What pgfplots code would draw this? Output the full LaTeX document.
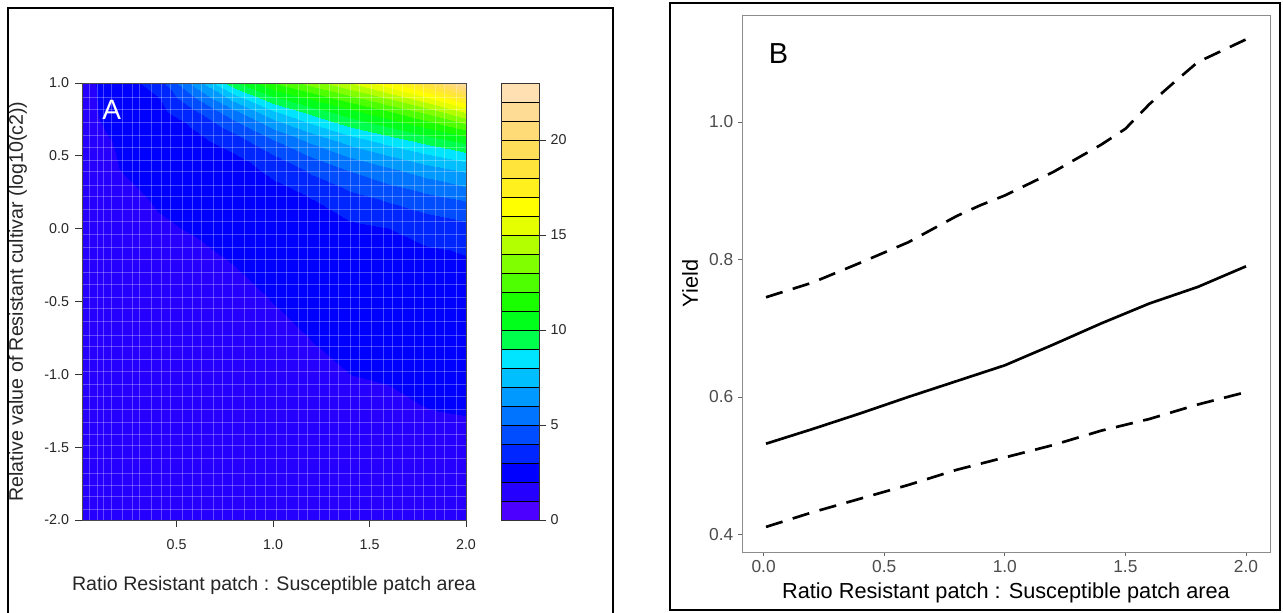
\documentclass[border=0pt]{standalone}
\usepackage{fontspec}
\setmainfont{Liberation Sans}
\usepackage{pgfplots}
\pgfplotsset{compat=1.18}

\pgfplotsset{
  colormap={topo}{
    rgb255=(76,0,255) rgb255=(38,0,255) rgb255=(0,0,255) rgb255=(0,38,255)
    rgb255=(0,77,255) rgb255=(0,115,255) rgb255=(0,153,255) rgb255=(0,191,255)
    rgb255=(0,229,255) rgb255=(0,255,77) rgb255=(0,255,26) rgb255=(26,255,0)
    rgb255=(77,255,0) rgb255=(128,255,0) rgb255=(179,255,0) rgb255=(230,255,0)
    rgb255=(255,255,0) rgb255=(255,240,30) rgb255=(255,229,59) rgb255=(255,222,89)
    rgb255=(255,219,119) rgb255=(255,220,149) rgb255=(255,224,179)
  }
}

\pgfplotstableread{
x y z
0.01 -2 1.600
0.1 -2 1.600
0.2 -2 1.600
0.4 -2 1.600
0.6 -2 1.600
0.8 -2 1.602
1.0 -2 1.608
1.2 -2 1.624
1.4 -2 1.646
1.6 -2 1.666
1.8 -2 1.686
2.0 -2 1.704
0.01 -1.5 1.600
0.1 -1.5 1.600
0.2 -1.5 1.602
0.4 -1.5 1.604
0.6 -1.5 1.606
0.8 -1.5 1.610
1.0 -1.5 1.628
1.2 -1.5 1.680
1.4 -1.5 1.736
1.6 -1.5 1.788
1.8 -1.5 1.836
2.0 -1.5 1.884
0.01 -1.25 1.600
0.1 -1.25 1.600
0.2 -1.25 1.604
0.4 -1.25 1.610
0.6 -1.25 1.612
0.8 -1.25 1.620
1.0 -1.25 1.656
1.2 -1.25 1.742
1.4 -1.25 1.836
1.6 -1.25 1.918
1.8 -1.25 1.994
2.0 -1.25 2.018
0.01 -1 1.600
0.1 -1 1.602
0.2 -1 1.610
0.4 -1 1.620
0.6 -1 1.628
0.8 -1 1.642
1.0 -1 1.710
1.2 -1 1.856
1.4 -1 2.002
1.6 -1 2.035
1.8 -1 2.065
2.0 -1 2.095
0.01 -0.75 1.600
0.1 -0.75 1.604
0.2 -0.75 1.618
0.4 -0.75 1.640
0.6 -0.75 1.658
0.8 -0.75 1.690
1.0 -0.75 1.816
1.2 -0.75 2.015
1.4 -0.75 2.075
1.6 -0.75 2.125
1.8 -0.75 2.175
2.0 -0.75 2.220
0.01 -0.5 1.600
0.1 -0.5 1.610
0.2 -0.5 1.636
0.4 -0.5 1.682
0.6 -0.5 1.724
0.8 -0.5 1.792
1.0 -0.5 2.006
1.2 -0.5 2.105
1.4 -0.5 2.200
1.6 -0.5 2.280
1.8 -0.5 2.355
2.0 -0.5 2.425
0.01 -0.25 1.602
0.1 -0.25 1.622
0.2 -0.25 1.670
0.4 -0.25 1.764
0.6 -0.25 1.862
0.8 -0.25 2.002
1.0 -0.25 2.105
1.2 -0.25 2.270
1.4 -0.25 2.420
1.6 -0.25 2.545
1.8 -0.25 2.660
2.0 -0.25 2.770
0.01 0 1.610
0.1 0 1.646
0.2 0 1.736
0.4 0 1.930
0.6 0 2.040
0.8 0 2.117
1.0 0 2.305
1.2 0 2.565
1.4 0 2.795
1.6 0 2.985
1.8 0 3.320
2.0 0 3.660
0.01 0.2 1.620
0.1 0.2 1.682
0.2 0.2 1.834
0.4 0.2 2.044
0.6 0.2 2.155
0.8 0.2 2.298
1.0 0.2 2.595
1.2 0.2 2.965
1.4 0.2 3.560
1.6 0.2 4.100
1.8 0.2 4.600
2.0 0.2 5.070
0.01 0.4 1.630
0.1 0.4 1.750
0.2 0.4 1.996
0.4 0.4 2.152
0.6 0.4 2.366
0.8 0.4 2.630
1.0 0.4 3.190
1.2 0.4 4.190
1.4 0.4 5.070
1.6 0.4 5.810
1.8 0.4 6.510
2.0 0.4 7.180
0.01 0.5 1.636
0.1 0.5 1.802
0.2 0.5 2.031
0.4 0.5 2.233
0.6 0.5 2.530
0.8 0.5 2.888
1.0 0.5 3.920
1.2 0.5 5.090
1.4 0.5 6.110
1.6 0.5 6.980
1.8 0.5 7.810
2.0 0.5 8.590
0.01 0.6 1.644
0.1 0.6 1.872
0.2 0.6 2.071
0.4 0.6 2.341
0.6 0.6 2.752
0.8 0.6 3.474
1.0 0.6 4.890
1.2 0.6 6.220
1.4 0.6 7.400
1.6 0.6 8.420
1.8 0.6 9.360
2.0 0.6 10.330
0.01 0.7 1.654
0.1 0.7 1.966
0.2 0.7 2.124
0.4 0.7 2.483
0.6 0.7 3.105
0.8 0.7 4.420
1.0 0.7 6.160
1.2 0.7 7.650
1.4 0.7 9.000
1.6 0.7 10.040
1.8 0.7 11.140
2.0 0.7 12.480
0.01 0.8 1.664
0.1 0.8 2.024
0.2 0.8 2.193
0.4 0.8 2.671
0.6 0.8 3.918
0.8 0.8 5.700
1.0 0.8 7.820
1.2 0.8 9.380
1.4 0.8 10.650
1.6 0.8 11.890
1.8 0.8 13.280
2.0 0.8 15.120
0.01 0.9 1.680
0.1 0.9 2.050
0.2 0.9 2.283
0.4 0.9 2.921
0.6 0.9 5.018
0.8 0.9 7.437
1.0 0.9 9.790
1.2 0.9 11.240
1.4 0.9 12.620
1.6 0.9 14.120
1.8 0.9 15.870
2.0 0.9 18.340
0.01 1.0 1.700
0.1 1.0 2.075
0.2 1.0 2.400
0.4 1.0 3.500
0.6 1.0 6.500
0.8 1.0 9.780
1.0 1.0 12.000
1.2 1.0 13.500
1.4 1.0 15.000
1.6 1.0 16.800
1.8 1.0 19.000
2.0 1.0 22.300
}\fieldA

\pgfplotstableread{
x y
0 0
1 0
0 1
1 1
0 2
1 2
0 3
1 3
0 4
1 4
0 5
1 5
0 6
1 6
0 7
1 7
0 8
1 8
0 9
1 9
0 10
1 10
0 11
1 11
0 12
1 12
0 13
1 13
0 14
1 14
0 15
1 15
0 16
1 16
0 17
1 17
0 18
1 18
0 19
1 19
0 20
1 20
0 21
1 21
0 22
1 22
0 23
1 23
}\keyA

\pgfplotstableread{
x y
0.01 0.532
0.2 0.553
0.4 0.576
0.6 0.600
0.8 0.623
1.0 0.646
1.2 0.676
1.4 0.707
1.6 0.736
1.8 0.760
2.0 0.790
}\fitB

\pgfplotstableread{
x y
0.01 0.745
0.2 0.766
0.4 0.795
0.5 0.810
0.6 0.825
0.7 0.844
0.8 0.863
0.9 0.879
1.0 0.893
1.2 0.927
1.4 0.967
1.5 0.990
1.6 1.026
1.7 1.057
1.8 1.087
2.0 1.120
}\upperB

\pgfplotstableread{
x y
0.01 0.411
0.2 0.432
0.4 0.452
0.6 0.472
0.8 0.494
1.0 0.512
1.2 0.530
1.4 0.551
1.6 0.568
1.8 0.589
2.0 0.607
}\lowerB

\begin{document}
\begin{tikzpicture}
\useasboundingbox (0,0) rectangle (962.25pt,459pt);
\fill[white] (0,0) rectangle (962.25pt,459pt);

% ---------------- Panel A: filled contour ----------------
\begin{axis}[
  at={(61.5pt,69pt)}, anchor=south west,
  width=288pt, height=327.75pt, scale only axis,
  xmin=0.01, xmax=2, ymin=-2, ymax=1,
  colormap name=topo, colormap access=piecewise constant,
  point meta min=0, point meta max=23,
  xtick={0.5,1.0,1.5,2.0}, ytick={-2,-1.5,-1,-0.5,0,0.5,1},
  minor xtick={0.05,0.09,0.12,0.16,0.22,0.27,0.31,0.37,0.42,0.47,0.53,0.58,0.63,0.69,0.74,0.79,0.85,0.91,0.96,1.02,1.07,1.13,1.18,1.24,1.29,1.34,1.40,1.45,1.51,1.57,1.62,1.67,1.73,1.78,1.84,1.89,1.95},
  minor ytick={-1.93,-1.84,-1.76,-1.68,-1.58,-1.49,-1.41,-1.33,-1.24,-1.15,-1.07,-0.98,-0.90,-0.81,-0.73,-0.64,-0.55,-0.47,-0.38,-0.30,-0.21,-0.13,-0.04,0.05,0.13,0.22,0.30,0.39,0.47,0.56,0.64,0.73,0.82,0.90},
  xminorgrids, yminorgrids,
  minor grid style={white, opacity=0.28, line width=0.6pt},
  minor tick length=0pt,
  tick pos=left, tick align=outside, major tick length=5.25pt,
  tick style={black!80, line width=0.6pt},
  axis line style={black!70, line width=0.6pt},
  /pgf/number format/assume math mode=true,
  xticklabel={\pgfmathprintnumber[fixed,fixed zerofill,precision=1]{\tick}},
  yticklabel={\pgfmathprintnumber[fixed,fixed zerofill,precision=1]{\tick}},
  tick label style={font=\fontsize{10.7pt}{12pt}\selectfont, text=black!85},
  xticklabel style={yshift=-6pt},
  yticklabel style={xshift=-1pt},
  xlabel={Ratio Resistant patch : Susceptible patch area},
  ylabel={Relative value of Resistant cultivar (log10(c2))},
  label style={font=\fontsize{14.7pt}{16pt}\selectfont, text=black!85},
  xlabel style={at={(axis description cs:0.5,-0.149)}, anchor=center},
  ylabel style={at={(axis description cs:-0.167,0.5)}, anchor=center},
  axis on top,
]
\addplot[surf, shader=interp, mesh/cols=12, point meta=\thisrow{z}] table[x=x, y=y] {\fieldA};
\node[text=white, font=\fontsize{21pt}{24pt}\selectfont] at (axis cs:0.164,0.815) {A};
\end{axis}

% ---------------- Panel A: colour key ----------------
\begin{axis}[
  at={(375.75pt,69pt)}, anchor=south west,
  width=28.5pt, height=327.75pt, scale only axis,
  xmin=0, xmax=1, ymin=0, ymax=23,
  colormap name=topo, colormap access=piecewise constant,
  point meta min=0, point meta max=23,
  xtick=\empty, ytick={0,5,10,15,20},
  minor ytick={1,2,3,4,6,7,8,9,11,12,13,14,16,17,18,19,21,22},
  ymajorgrids, yminorgrids,
  major grid style={black, line width=0.6pt},
  minor grid style={black, line width=0.6pt},
  minor tick length=0pt,
  ytick pos=right, yticklabel pos=right,
  tick align=outside, major tick length=5.25pt,
  tick style={black!80, line width=0.6pt},
  axis line style={black!80, line width=0.6pt},
  /pgf/number format/assume math mode=true,
  tick label style={font=\fontsize{10.7pt}{12pt}\selectfont, text=black!85},
  axis on top,
]
\addplot[surf, shader=interp, mesh/cols=2, point meta=\thisrow{y}] table[x=x, y=y] {\keyA};
\end{axis}

% ---------------- Panel B: yield ----------------
\begin{axis}[
  at={(556.5pt,45pt)}, anchor=south west,
  width=396pt, height=402.75pt, scale only axis,
  xmin=-0.0895, xmax=2.0995, ymin=0.3745, ymax=1.1555,
  xtick={0,0.5,1.0,1.5,2.0}, ytick={0.4,0.6,0.8,1.0},
  tick align=outside, tick pos=left, major tick length=3pt,
  tick style={black!60, line width=0.6pt},
  axis line style={black!45, line width=0.7pt},
  /pgf/number format/assume math mode=true,
  xticklabel={\pgfmathprintnumber[fixed,fixed zerofill,precision=1]{\tick}},
  yticklabel={\pgfmathprintnumber[fixed,fixed zerofill,precision=1]{\tick}},
  tick label style={font=\fontsize{13pt}{15pt}\selectfont, text=black!70},
  xlabel={Ratio Resistant patch : Susceptible patch area},
  ylabel={Yield},
  label style={font=\fontsize{16.3pt}{18pt}\selectfont, text=black},
  xlabel style={at={(axis description cs:0.5,-0.0763)}, anchor=center},
  ylabel style={at={(axis description cs:-0.0985,0.5)}, anchor=center},
]
\addplot[black, line width=2pt, line join=round] table[x=x, y=y] {\fitB};
\addplot[black, line width=2pt, dash pattern=on 13pt off 8pt, line join=round] table[x=x, y=y] {\upperB};
\addplot[black, line width=2pt, dash pattern=on 13pt off 8pt, line join=round] table[x=x, y=y] {\lowerB};
\node[font=\fontsize{21.7pt}{24pt}\selectfont] at (axis cs:0.062,1.100) {B};
\end{axis}

% ---------------- panel frames ----------------
\draw[black, line width=1.5pt] (6pt,-3pt) -- (6pt,453pt) -- (459.75pt,453pt) -- (459.75pt,-3pt);
\draw[black, line width=1.5pt] (502.5pt,1.5pt) rectangle (960pt,456.75pt);
\end{tikzpicture}
\end{document}
